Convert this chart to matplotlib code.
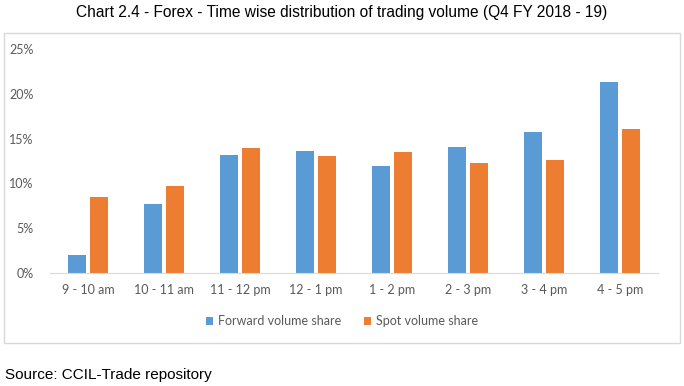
import matplotlib.pyplot as plt
import numpy as np
from matplotlib.patches import Rectangle

# data
slots = ["9 - 10 am", "10 - 11 am", "11 - 12 pm", "12 - 1 pm",
         "1 - 2 pm", "2 - 3 pm", "3 - 4 pm", "4 - 5 pm"]
forward_share = [2.0, 7.7, 13.2, 13.6, 11.9, 14.1, 15.7, 21.3]
spot_share = [8.5, 9.7, 13.9, 13.1, 13.5, 12.3, 12.6, 16.1]
y_ticks = [0, 5, 10, 15, 20, 25]

blue = "#5B9BD5"
orange = "#ED7D31"
grey = "#595959"

if __name__ == "__main__":
    W, H = 684, 386
    fig = plt.figure(figsize=(W / 100, H / 100), dpi=100)

    # chart frame
    fig.patches.append(Rectangle((4 / W, 1 - 343 / H), 676 / W, 310 / H,
                                 transform=fig.transFigure, fill=False,
                                 edgecolor="#D9D9D9", linewidth=1))

    ax = fig.add_axes([50 / W, 1 - 273 / H, 608 / W, 224 / H])
    x = np.arange(len(slots))
    width = 0.225
    ax.bar(x - 0.145, forward_share, width, color=blue, label="Forward volume share")
    ax.bar(x + 0.145, spot_share, width, color=orange, label="Spot volume share")

    ax.set_xlim(-0.5, len(slots) - 0.5)
    ax.set_ylim(0, 25)
    ax.set_yticks(y_ticks)
    ax.set_yticklabels([f"{t}%" for t in y_ticks])
    ax.set_xticks(x)
    ax.set_xticklabels(slots)
    ax.tick_params(length=0, colors=grey, labelsize=9)
    ax.tick_params(axis="y", pad=12)
    ax.tick_params(axis="x", pad=8)
    for lab in ax.get_xticklabels() + ax.get_yticklabels():
        lab.set_fontfamily("Lato")

    for s in ["top", "right", "left"]:
        ax.spines[s].set_visible(False)
    ax.spines["bottom"].set_color("#D9D9D9")

    leg = ax.legend(loc="center", bbox_to_anchor=(0.5, 1 - 321 / H),
                    bbox_transform=fig.transFigure, ncol=2, frameon=False,
                    handlelength=0.6, handleheight=0.6, handletextpad=0.4,
                    columnspacing=1.8, prop={"family": "Lato", "size": 9})
    for t in leg.get_texts():
        t.set_color(grey)

    fig.text(0.5, 1 - 13 / H,
             "Chart 2.4 - Forex - Time wise distribution of trading volume (Q4 FY 2018 - 19)",
             ha="center", va="center", fontsize=11.2, family="Liberation Sans")
    fig.text(5 / W, 1 - 375 / H, "Source: CCIL-Trade repository",
             ha="left", va="center", fontsize=11, family="Liberation Sans")

    fig.savefig("out.png", dpi=100)
